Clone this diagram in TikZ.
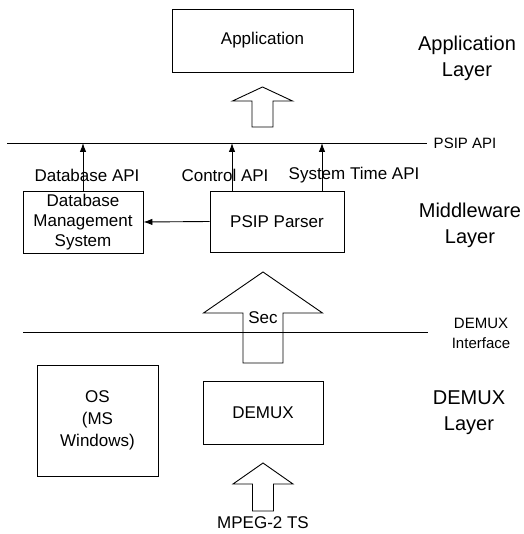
\documentclass[tikz,border=0pt]{standalone}
\usepackage{fontspec}
\setmainfont{Liberation Sans}
\usetikzlibrary{arrows.meta}

\begin{document}
\begin{tikzpicture}[x=1pt,y=-1pt,
    box/.style={draw,line width=0.9pt,align=center,inner sep=0pt,font=\fontsize{17}{20}\selectfont},
    lbl/.style={inner sep=0pt,font=\fontsize{17}{20}\selectfont},
    layer/.style={align=center,inner sep=0pt,font=\fontsize{20}{26}\selectfont},
    iface/.style={align=center,inner sep=0pt,font=\fontsize{15}{20}\selectfont},
    arr/.style={-{Latex[length=9pt,width=6.5pt]},line width=0.9pt},
    hollow/.style={draw,line width=0.9pt,line join=miter}]
    \useasboundingbox (0,0) rectangle (523,534);

    % application layer
    \node[box,minimum width=181pt,minimum height=63pt] (app) at (262.5,40.5) {Application};
    \node[layer] (applayer) at (467,58) {Application\\Layer};
    \draw[hollow] (262.5,87) -- (292.5,101) -- (273,101) -- (273,127) -- (252,127) -- (252,101) -- (232.5,101) -- cycle;

    % PSIP API
    \coordinate (psipL) at (7,143);
    \coordinate (psipR) at (427,143);
    \draw[line width=0.9pt] (psipL) -- (psipR);
    \node[iface] (psipapi) at (465,143) {PSIP API};

    % middleware layer
    \node[box,minimum width=120pt,minimum height=62pt] (dbms) at (83,222) {Database\\Management\\System};
    \node[box,minimum width=134pt,minimum height=61pt] (parser) at (277,221.5) {PSIP Parser};
    \node[layer] (midlayer) at (470,225) {Middleware\\Layer};
    \draw[arr] (parser.west) -- (dbms.east);

    \node[lbl] (dbapi) at (87,175) {Database API};
    \node[lbl] (ctrlapi) at (225,175) {Control API};
    \node[lbl] (timeapi) at (354,175) {System Time API};
    \draw[arr] (dbms.north) -- (dbms.north |- psipL);
    \draw[arr] ([xshift=-45pt]parser.north) -- ([xshift=-45pt]parser.north |- psipL);
    \draw[arr] ([xshift=45pt]parser.north) -- ([xshift=45pt]parser.north |- psipL);

    % Sec arrow and DEMUX interface
    \draw[hollow] (263,272) -- (322.5,313) -- (283,313) -- (283,363) -- (243,363) -- (243,313) -- (203.5,313) -- cycle;
    \node[lbl] (sec) at (263,318) {Sec};
    \coordinate (demuxL) at (23,332);
    \coordinate (demuxR) at (428,332);
    \draw[line width=0.9pt] (demuxL) -- (demuxR);
    \node[iface] (demuxif) at (481,333) {DEMUX\\Interface};

    % DEMUX layer
    \node[box,minimum width=121pt,minimum height=111pt,font=\fontsize{17}{22}\selectfont] (os) at (97.5,420.5) {OS\\(MS\\Windows)};
    \node[box,minimum width=120pt,minimum height=63pt] (demux) at (263,412.5) {DEMUX};
    \node[layer] (demuxlayer) at (469,413) {DEMUX\\Layer};
    \draw[hollow] (263,463) -- (293,484) -- (273.5,484) -- (273.5,511) -- (252.5,511) -- (252.5,484) -- (233,484) -- cycle;
    \node[lbl] (ts) at (263,523) {MPEG-2 TS};
\end{tikzpicture}
\end{document}
